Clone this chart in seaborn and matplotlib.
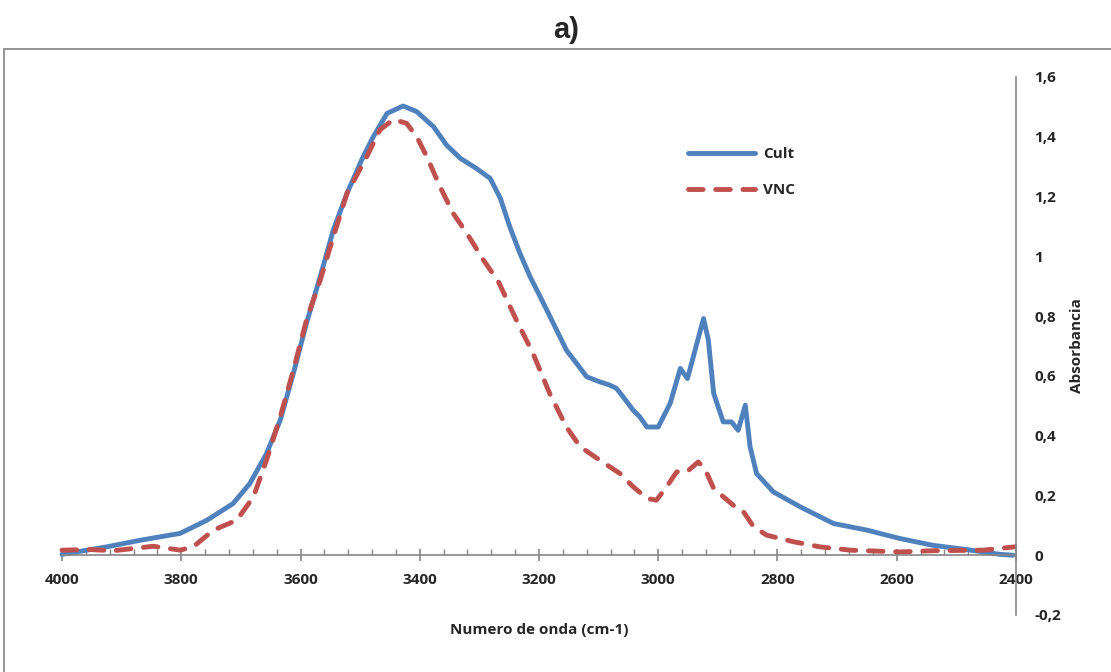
import numpy as np
import pandas as pd
import matplotlib
matplotlib.use("Agg")
import matplotlib.pyplot as plt
import matplotlib.patches as patches
from matplotlib.ticker import MultipleLocator
import seaborn as sns

# ---- data ----
cult_x = [4000, 3925, 3869, 3802, 3757, 3713, 3685, 3657, 3634, 3612, 3590, 3567,
          3545, 3522, 3495, 3478, 3455, 3428, 3405, 3377, 3355, 3332, 3305, 3282,
          3265, 3249, 3232, 3215, 3198, 3176, 3154, 3137, 3120, 3098, 3081, 3070,
          3059, 3042, 3031, 3019, 3000, 2980,
          2963, 2951, 2924, 2916, 2907, 2891, 2877, 2866, 2854, 2846, 2835, 2807,
          2762, 2706, 2678, 2650, 2595, 2539, 2483, 2427, 2405]
cult_y = [0.003, 0.028, 0.050, 0.073, 0.117, 0.173, 0.240, 0.340, 0.452, 0.608, 0.776, 0.932,
          1.088, 1.211, 1.333, 1.400, 1.478, 1.503, 1.484, 1.434, 1.372, 1.328, 1.294, 1.261,
          1.195, 1.099, 1.010, 0.932, 0.865, 0.776, 0.686, 0.642, 0.597, 0.580, 0.569, 0.558,
          0.530, 0.485, 0.463, 0.429, 0.429, 0.508,
          0.625, 0.591, 0.792, 0.720, 0.541, 0.446, 0.446, 0.418, 0.502, 0.363, 0.273, 0.212,
          0.162, 0.106, 0.095, 0.084, 0.056, 0.033, 0.019, 0.003, 0.000]

vnc_x = [4000, 3953, 3914, 3847, 3802, 3780, 3746, 3707, 3679, 3657, 3634, 3612,
         3590, 3567, 3545, 3522, 3489, 3467, 3444, 3422, 3405, 3388, 3366, 3344,
         3321, 3293, 3268, 3238, 3210, 3182, 3154, 3131, 3098, 3064, 3042, 3019,
         3003, 2986, 2969, 2952, 2933, 2922, 2907, 2874, 2857, 2840, 2818, 2773,
         2729, 2678, 2595, 2539, 2455, 2402]
vnc_y = [0.017, 0.019, 0.015, 0.030, 0.017, 0.028, 0.084, 0.117, 0.195, 0.318, 0.463, 0.619,
         0.787, 0.920, 1.065, 1.211, 1.333, 1.423, 1.458, 1.445, 1.400, 1.333, 1.233, 1.144,
         1.077, 0.987, 0.915, 0.787, 0.675, 0.541, 0.429, 0.363, 0.318, 0.273, 0.229, 0.190,
         0.184, 0.229, 0.279, 0.279, 0.312, 0.290, 0.223, 0.167, 0.145, 0.095, 0.067, 0.045,
         0.028, 0.017, 0.011, 0.015, 0.017, 0.028]

x_ticks = [4000, 3800, 3600, 3400, 3200, 3000, 2800, 2600, 2400]
x_tick_labels = ["4000", "3800", "3600", "3400", "3200", "3000", "2800", "2600", "2400"]
y_ticks = [-0.2, 0.0, 0.2, 0.4, 0.6, 0.8, 1.0, 1.2, 1.4, 1.6]
y_tick_labels = ["-0,2", "0", "0,2", "0,4", "0,6", "0,8", "1", "1,2", "1,4", "1,6"]

series_names = ["Cult", "VNC"]
title_text = "a)"
x_label = "Numero de onda (cm-1)"
y_label = "Absorbancia"

# ---- style ----
sns.set_style("white")
plt.rcParams["font.family"] = ["Open Sans", "DejaVu Sans"]

BLUE = "#4F81BD"
RED = "#C0504D"
GRAY = "#868686"
FS = 11

fig = plt.figure(figsize=(11.11, 6.72), dpi=100)
ax = fig.add_axes([62 / 1111, 1 - 615 / 672, (1016 - 62) / 1111, (615 - 77) / 672])

df_c = pd.DataFrame({"x": cult_x, "y": cult_y})
df_v = pd.DataFrame({"x": vnc_x, "y": vnc_y})

sns.lineplot(data=df_c, x="x", y="y", ax=ax, color=BLUE, lw=3.5,
             label=series_names[0], sort=False, solid_capstyle="round")
sns.lineplot(data=df_v, x="x", y="y", ax=ax, color=RED, lw=3.5,
             label=series_names[1], sort=False, dashes=False)
line_c = ax.get_lines()[0]
line_v = ax.get_lines()[1]
line_c.set_solid_joinstyle("round")
line_v.set_dashes([3.0, 2.6])
line_v.set_dash_capstyle("round")
line_v.set_dash_joinstyle("round")
line_v.set_clip_on(False)
line_c.set_clip_on(False)

ax.set_xlim(4000, 2400)
ax.set_ylim(-0.2, 1.6)

# spines
ax.spines["top"].set_visible(False)
ax.spines["left"].set_visible(False)
ax.spines["right"].set_visible(True)
ax.spines["right"].set_color(GRAY)
ax.spines["right"].set_linewidth(1.2)
ax.spines["bottom"].set_position(("data", 0))
ax.spines["bottom"].set_color(GRAY)
ax.spines["bottom"].set_linewidth(1.2)

# x ticks
ax.set_xticks(x_ticks)
ax.set_xticklabels(x_tick_labels)
ax.xaxis.set_minor_locator(MultipleLocator(40))
ax.tick_params(axis="x", which="major", direction="inout", length=9, width=1.2,
               color=GRAY, pad=8, labelsize=FS, bottom=True)
ax.tick_params(axis="x", which="minor", direction="in", length=4, width=1.0,
               color=GRAY, bottom=True)
for t in ax.get_xticklabels():
    t.set_fontweight("bold")

# y ticks on right
ax.yaxis.tick_right()
ax.set_yticks(y_ticks)
ax.set_yticklabels(y_tick_labels)
ax.tick_params(axis="y", which="both", length=0, pad=13, labelsize=FS,
               left=False, right=False, labelright=True, labelleft=False)
for t in ax.get_yticklabels():
    t.set_fontweight("bold")

# axis labels
ax.set_xlabel(x_label, fontsize=FS, fontweight="bold")
ax.xaxis.set_label_coords(0.5, -0.014)
ax.yaxis.set_label_position("right")
ax.set_ylabel(y_label, fontsize=FS, fontweight="bold")
ax.yaxis.set_label_coords(1.057, 0.5)

ax.grid(False)

# legend
leg = ax.legend(loc="upper left", bbox_to_anchor=(0.648, 0.884), frameon=False,
                handlelength=4.4, handletextpad=0.5, labelspacing=1.45,
                borderpad=0, prop={"weight": "bold", "size": FS})
for h in leg.get_lines():
    h.set_linewidth(3.5)
leg.get_lines()[1].set_dashes([3.0, 2.6])
leg.get_lines()[1].set_dash_capstyle("round")
leg.get_lines()[0].set_solid_capstyle("round")

# title
fig.text(566 / 1111, 1 - 30 / 672, title_text, ha="center", va="center",
         fontsize=21, fontweight="bold", family=["Liberation Sans", "DejaVu Sans"])

# outer chart border (only left and top visible in the reference)
border = patches.Rectangle((4 / 1111, -0.2), 1.2, 1 - 49 / 672 + 0.2,
                           transform=fig.transFigure, fill=False,
                           edgecolor="#8C8C8C", lw=1.3, clip_on=False)
fig.patches.append(border)

fig.savefig("out.png", dpi=100)
